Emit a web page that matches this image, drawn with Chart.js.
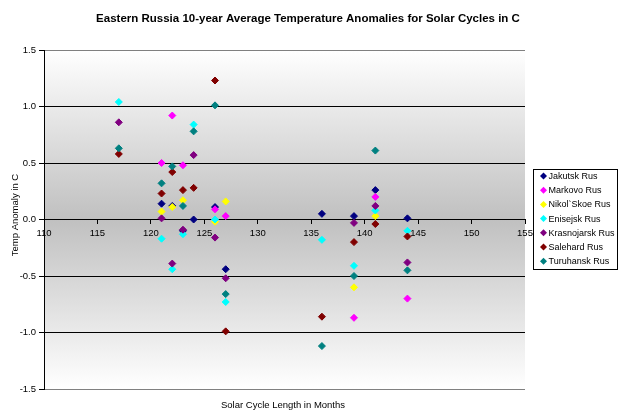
<!DOCTYPE html>
<html><head><meta charset="utf-8">
<script src="https://cdn.jsdelivr.net/npm/chart.js@4/dist/chart.umd.min.js"></script>
<style>html,body{margin:0;padding:0;background:#fff}</style>
</head><body>
<canvas id="c" width="620" height="420"></canvas>
<script>
// ---- data ----
const chartTitle = 'Eastern Russia 10-year Average Temperature Anomalies for Solar Cycles in C';
const xAxisTitle = 'Solar Cycle Length in Months';
const yAxisTitle = 'Temp Anomaly in C';
const xTicks = [110, 115, 120, 125, 130, 135, 140, 145, 150, 155];
const yTicks = [-1.5, -1.0, -0.5, 0.0, 0.5, 1.0, 1.5];

const seriesNames = ['Jakutsk Rus', 'Markovo Rus', 'Nikol`Skoe Rus', 'Enisejsk Rus', 'Krasnojarsk Rus', 'Salehard Rus', 'Turuhansk Rus'];
const seriesColors = ['#000080', '#FF00FF', '#FFFF00', '#00FFFF', '#800080', '#800000', '#008080'];

const jakutskCycles     = [121, 122, 123, 124, 126, 127, 136, 139, 141, 144];
const jakutskValues     = [0.14, 0.12, -0.10, 0.00, 0.11, -0.44, 0.05, 0.03, 0.26, 0.01];
const markovoCycles     = [121, 122, 123, 126, 127, 139, 141, 144];
const markovoValues     = [0.50, 0.92, 0.48, 0.09, 0.03, -0.87, 0.20, -0.70];
const nikolskoeCycles   = [121, 122, 123, 126, 127, 139, 141];
const nikolskoeValues   = [0.07, 0.11, 0.17, -0.02, 0.16, -0.60, 0.03];
const enisejskCycles    = [117, 121, 122, 123, 124, 126, 127, 136, 139, 141, 144];
const enisejskValues    = [1.04, -0.17, -0.44, -0.13, 0.84, 0.00, -0.73, -0.18, -0.41, 0.08, -0.10];
const krasnojarskCycles = [117, 121, 122, 123, 124, 126, 127, 139, 141, 144];
const krasnojarskValues = [0.86, 0.01, -0.39, -0.09, 0.57, -0.16, -0.52, -0.03, 0.12, -0.38];
const salehardCycles    = [117, 121, 122, 123, 124, 126, 127, 136, 139, 141, 144];
const salehardValues    = [0.58, 0.23, 0.42, 0.26, 0.28, 1.23, -0.99, -0.86, -0.20, -0.04, -0.15];
const turuhanskCycles   = [117, 121, 122, 123, 124, 126, 127, 136, 139, 141, 144];
const turuhanskValues   = [0.63, 0.32, 0.47, 0.12, 0.78, 1.01, -0.66, -1.12, -0.50, 0.61, -0.45];

const seriesCycles = [jakutskCycles, markovoCycles, nikolskoeCycles, enisejskCycles, krasnojarskCycles, salehardCycles, turuhanskCycles];
const seriesValues = [jakutskValues, markovoValues, nikolskoeValues, enisejskValues, krasnojarskValues, salehardValues, turuhanskValues];

// ---- build ----
const FONT = '"Liberation Sans", Arial, sans-serif';
const datasets = seriesNames.map((name, i) => ({
  label: name,
  data: seriesCycles[i].map((x, j) => ({x: x, y: seriesValues[i][j]})),
  backgroundColor: seriesColors[i],
  borderColor: seriesColors[i],
  borderWidth: 1,
  pointStyle: 'rectRot',
  pointRadius: 3.5,
  pointHoverRadius: 3.5,
  order: 20 - i
}));

const plotBg = {
  id: 'plotBg',
  beforeDraw(chart) {
    const {ctx, chartArea: a} = chart;
    const g = ctx.createLinearGradient(0, a.top, 0, a.bottom);
    g.addColorStop(0, '#ffffff');
    g.addColorStop(0.5, '#c0c0c0');
    g.addColorStop(1, '#ffffff');
    ctx.save();
    ctx.fillStyle = g;
    ctx.fillRect(a.left, a.top, a.right - a.left, a.bottom - a.top);
    ctx.restore();
  }
};

const texts = {
  id: 'texts',
  afterDraw(chart) {
    const {ctx, chartArea: a} = chart;
    ctx.save();
    ctx.fillStyle = '#000';
    ctx.textAlign = 'center';
    ctx.textBaseline = 'alphabetic';
    ctx.font = 'bold 11.5px ' + FONT;
    ctx.fillText(chartTitle, 308, 22);
    ctx.font = '9.5px ' + FONT;
    ctx.fillText(xAxisTitle, 283, 408);
    ctx.translate(18, 215);
    ctx.rotate(-Math.PI / 2);
    ctx.fillText(yAxisTitle, 0, 0);
    ctx.restore();

    // legend
    ctx.save();
    const bx = 533.5, by = 169.5, bw = 84, bh = 100;
    ctx.fillStyle = '#fff';
    ctx.fillRect(bx, by, bw, bh);
    ctx.strokeStyle = '#000';
    ctx.lineWidth = 1;
    ctx.strokeRect(bx, by, bw, bh);
    ctx.font = '9px ' + FONT;
    ctx.textAlign = 'left';
    ctx.textBaseline = 'middle';
    chart.data.datasets.forEach((ds, i) => {
      const cy = 176 + i * 14.2;
      const cx = 543.5;
      const r = 3.5;
      ctx.fillStyle = ds.backgroundColor;
      ctx.beginPath();
      ctx.moveTo(cx, cy - r); ctx.lineTo(cx + r, cy); ctx.lineTo(cx, cy + r); ctx.lineTo(cx - r, cy); ctx.closePath();
      ctx.fill();
      ctx.fillStyle = '#000';
      ctx.fillText(ds.label, 548.5, cy + 0.5);
    });
    ctx.restore();
  }
};

new Chart(document.getElementById('c'), {
  type: 'scatter',
  data: {datasets},
  options: {
    responsive: false,
    animation: false,
    devicePixelRatio: 1,
    layout: {padding: {top: 50, right: 95, bottom: 31, left: 0}},
    plugins: {legend: {display: false}, title: {display: false}, tooltip: {enabled: false}},
    scales: {
      x: {
        type: 'linear',
        position: {y: 0},
        min: xTicks[0], max: xTicks[xTicks.length - 1],
        afterBuildTicks(s) { s.ticks = xTicks.map(v => ({value: v})); },
        afterFit(s) { s.height = 0; },
        ticks: {color: '#000', font: {size: 9.5, family: FONT}, padding: 4, maxRotation: 0, autoSkip: false,
                callback: v => String(v)},
        grid: {drawOnChartArea: false, drawTicks: true, tickLength: 4, tickColor: '#000', color: '#000'},
        border: {display: true, color: '#000', width: 1}
      },
      y: {
        type: 'linear',
        min: yTicks[0], max: yTicks[yTicks.length - 1],
        afterBuildTicks(s) { s.ticks = yTicks.map(v => ({value: v})); },
        afterFit(s) { s.width = 44; },
        ticks: {color: '#000', font: {size: 9.5, family: FONT}, padding: 3,
                callback: v => Number(v).toFixed(1)},
        grid: {
          color: c => (Math.abs(c.tick.value) === 1.5 ? '#808080' : '#000'),
          lineWidth: 1, tickLength: 5, tickColor: '#000'
        },
        border: {display: true, color: '#000', width: 1}
      }
    }
  },
  plugins: [plotBg, texts]
});
</script>
</body></html>
